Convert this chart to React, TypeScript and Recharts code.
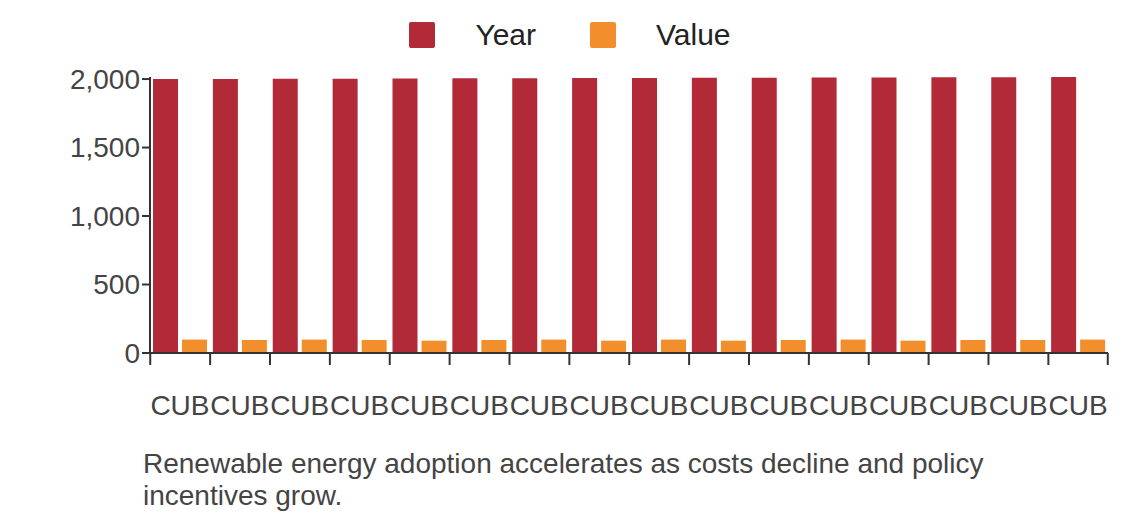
import React from "react";
import { BarChart, Bar, XAxis, YAxis } from "recharts";

const categories = Array.from({ length: 16 }, () => "CUB");
const yearValues = [2000, 2001, 2002, 2003, 2004, 2005, 2006, 2007, 2008, 2009, 2010, 2011, 2012, 2013, 2014, 2015];
const valueValues = [98, 95, 98, 95, 90, 95, 98, 90, 98, 90, 95, 98, 90, 95, 95, 98];
const yTicks = [0, 500, 1000, 1500, 2000];

const data = categories.map((c, i) => ({ name: c, Year: yearValues[i], Value: valueValues[i] }));
const FONT = "'Liberation Sans', Arial, sans-serif";

const XTick = (props: any) => {
  const { x, y, index } = props;
  const half = 29.7;
  return (
    <g>
      <line x1={x - half} y1={y - 8} x2={x - half} y2={y + 4} stroke="#333" strokeWidth={2} />
      {index === categories.length - 1 && (
        <line x1={x + half} y1={y - 8} x2={x + half} y2={y + 4} stroke="#333" strokeWidth={2} />
      )}
      <text x={x} y={y + 54} textAnchor="middle" fontSize={28} fill="#444" fontFamily={FONT}>
        {props.payload.value}
      </text>
    </g>
  );
};

const Legend2 = () => (
  <div style={{ position: "absolute", top: 10, left: 0, width: 1124, display: "flex", justifyContent: "center", fontFamily: FONT, fontSize: 30, color: "#222" }}>
    {[["Year", "#b22a38"], ["Value", "#f28e2c"]].map(([n, c], i) => (
      <div key={n} style={{ display: "flex", alignItems: "center", marginLeft: i ? 54 : 0 }}>
        <div style={{ width: 26, height: 26, background: c, marginRight: 40, borderRadius: 2 }} />
        <span>{n}</span>
      </div>
    ))}
  </div>
);

export default function App() {
  return (
    <div style={{ position: "relative", width: 1124, fontFamily: FONT }}>
      <Legend2 />
      <BarChart width={1124} height={420} data={data} margin={{ top: 69, right: 24, left: 0, bottom: 15 }} barGap={4} barCategoryGap={3}>
        <YAxis domain={[0, 2000]} ticks={yTicks} width={142} tickFormatter={(v) => v.toLocaleString("en-US")}
          tick={{ fontSize: 28, fill: "#444", fontFamily: FONT }} axisLine={{ stroke: "#333", strokeWidth: 2 }} tickLine={{ stroke: "#333", strokeWidth: 2 }} tickSize={8} />
        <XAxis dataKey="name" height={60} interval={0} tick={<XTick />} tickLine={false} axisLine={{ stroke: "#333", strokeWidth: 2 }} />
        <Bar dataKey="Year" fill="#b22a38" isAnimationActive={false} />
        <Bar dataKey="Value" fill="#f28e2c" isAnimationActive={false} />
      </BarChart>
      <div style={{ marginLeft: 135, marginTop: 20, fontSize: 28, lineHeight: "32px", color: "#444", width: 900 }}>
        Renewable energy adoption accelerates as costs decline and policy incentives grow.
      </div>
    </div>
  );
}
